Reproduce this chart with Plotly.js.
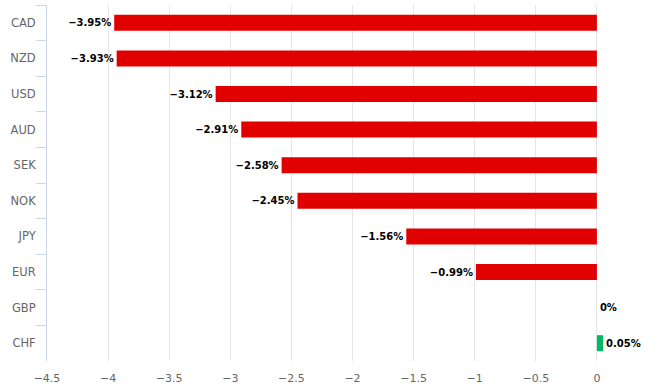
<!DOCTYPE html>
<html><head><meta charset="utf-8">
<script src="https://cdn.plot.ly/plotly-3.0.1.min.js"></script>
<style>html,body{margin:0;padding:0;background:#fff}#chart{width:664px;height:392px}</style>
</head><body><div id="chart"></div>
<script>
const currencies = ["CAD","NZD","USD","AUD","SEK","NOK","JPY","EUR","GBP","CHF"];
const changes = [-3.95,-3.93,-3.12,-2.91,-2.58,-2.45,-1.56,-0.99,0,0.05];
const xTicks = [-4.5,-4,-3.5,-3,-2.5,-2,-1.5,-1,-0.5,0,0.5];

const fmt = v => (v < 0 ? "\u2212" + Math.abs(v).toFixed(2) : (v === 0 ? "0" : v.toFixed(2))) + "%";
const fmtTick = v => (v < 0 ? "\u2212" + Math.abs(v) : String(v));

const trace = {
  type: "bar", orientation: "h",
  y: currencies, x: changes,
  marker: {color: changes.map(v => v >= 0 ? "#00b865" : "#e10000")},
  text: changes.map(fmt),
  textposition: "outside",
  textfont: {family: "DejaVu Sans", size: 10, color: "#000", weight: "bold"},
  cliponaxis: false,
  hoverinfo: "none"
};
const layout = {
  width: 664, height: 392,
  margin: {l: 47, r: 6, t: 5, b: 31},
  paper_bgcolor: "#fff", plot_bgcolor: "#fff",
  showlegend: false,
  bargap: 0.55,
  font: {family: "DejaVu Sans", size: 11, color: "#666"},
  xaxis: {
    range: [-4.5, 0.5], tickvals: xTicks, ticktext: xTicks.map(fmtTick),
    showgrid: true, gridcolor: "#e6e6e6", gridwidth: 1,
    zeroline: false, showline: false, ticks: "",
    ticklabelstandoff: 9,
    tickfont: {family: "DejaVu Sans", size: 11, color: "#666"}
  },
  yaxis: {
    type: "category", categoryorder: "array", categoryarray: currencies,
    autorange: "reversed",
    showgrid: false, zeroline: false,
    showline: true, linecolor: "#ccd6eb", linewidth: 1,
    ticks: "outside", tickson: "boundaries", ticklen: 10, tickcolor: "#ccd6eb",
    tickfont: {family: "DejaVu Sans", size: 11.5, color: "#666"},
    ticklabelstandoff: 8
  }
};
Plotly.newPlot("chart", [trace], layout, {displayModeBar: false, staticPlot: true});
</script></body></html>
